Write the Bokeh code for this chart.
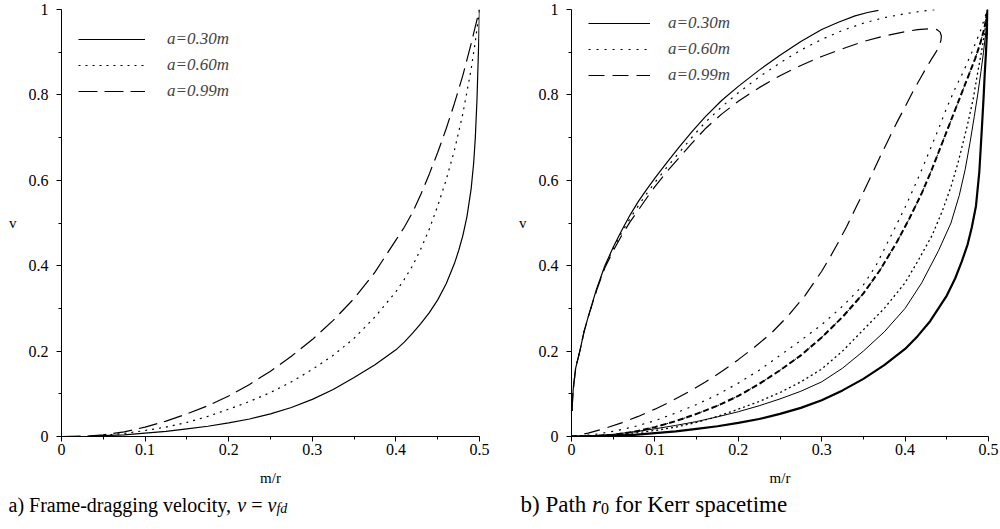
from bokeh.plotting import figure
from bokeh.layouts import row, column
from bokeh.models import FixedTicker, Legend, LegendItem, Label, Range1d
from bokeh.embed import file_html
from bokeh.resources import INLINE

# ---------------- data ----------------
# Panel a) frame-dragging velocity v_fd vs m/r
a_x_030 = [0, 0.03, 0.05, 0.075, 0.1, 0.125, 0.15, 0.175, 0.2, 0.225, 0.25, 0.275, 0.3, 0.325, 0.35, 0.375, 0.4, 0.41,
           0.42, 0.43, 0.44, 0.45, 0.46, 0.47, 0.475, 0.48, 0.485, 0.49, 0.493, 0.495, 0.497, 0.499, 0.5]
a_v_030 = [0, 0, 0.002, 0.004, 0.008, 0.012, 0.018, 0.024, 0.032, 0.041, 0.053, 0.068, 0.087, 0.11, 0.138, 0.168, 0.203, 0.221,
           0.242, 0.265, 0.29, 0.32, 0.357, 0.405, 0.435, 0.47, 0.515, 0.58, 0.64, 0.7, 0.79, 0.92, 1.0]
a_x_060 = [0, 0.03, 0.05, 0.075, 0.1, 0.125, 0.15, 0.175, 0.2, 0.225, 0.25, 0.275, 0.3, 0.325, 0.35, 0.375, 0.4, 0.41,
           0.42, 0.43, 0.44, 0.45, 0.46, 0.47, 0.48, 0.49, 0.495, 0.5]
a_v_060 = [0, 0, 0.003, 0.007, 0.014, 0.022, 0.033, 0.047, 0.064, 0.082, 0.103, 0.128, 0.157, 0.19, 0.23, 0.28, 0.339, 0.368,
           0.4, 0.44, 0.486, 0.54, 0.6, 0.67, 0.755, 0.86, 0.925, 1.0]
a_x_099 = [0, 0.03, 0.05, 0.075, 0.1, 0.125, 0.15, 0.175, 0.2, 0.225, 0.25, 0.275, 0.3, 0.325, 0.35, 0.375, 0.4, 0.41,
           0.42, 0.43, 0.44, 0.45, 0.46, 0.47, 0.48, 0.49, 0.5]
a_v_099 = [0, 0.001, 0.004, 0.011, 0.022, 0.036, 0.053, 0.072, 0.095, 0.122, 0.153, 0.188, 0.227, 0.272, 0.323, 0.385, 0.46, 0.49,
           0.525, 0.568, 0.615, 0.665, 0.72, 0.78, 0.845, 0.92, 1.0]

# Panel b) path r0 for Kerr spacetime
# upper branches
b_up_x_030 = [0.0005, 0.002, 0.005, 0.01, 0.015, 0.02, 0.03, 0.04, 0.05, 0.06, 0.07, 0.08, 0.09, 0.1, 0.115, 0.13, 0.145,
              0.16, 0.18, 0.2, 0.225, 0.25, 0.275, 0.3, 0.32, 0.34, 0.355, 0.368]
b_up_v_030 = [0.06, 0.11, 0.16, 0.2, 0.245, 0.28, 0.345, 0.4, 0.443, 0.482, 0.518, 0.55, 0.578, 0.605, 0.643, 0.68, 0.715,
              0.748, 0.787, 0.82, 0.858, 0.893, 0.925, 0.953, 0.97, 0.985, 0.993, 0.998]
b_up_x_060 = [0.0005, 0.002, 0.005, 0.01, 0.015, 0.02, 0.03, 0.04, 0.05, 0.06, 0.07, 0.08, 0.09, 0.1, 0.115, 0.13, 0.145,
              0.16, 0.18, 0.2, 0.225, 0.25, 0.275, 0.3, 0.325, 0.35, 0.375, 0.4, 0.42, 0.438]
b_up_v_060 = [0.06, 0.11, 0.16, 0.2, 0.245, 0.28, 0.343, 0.398, 0.44, 0.477, 0.51, 0.54, 0.568, 0.595, 0.632, 0.667, 0.702,
              0.735, 0.772, 0.805, 0.842, 0.875, 0.905, 0.93, 0.951, 0.968, 0.981, 0.99, 0.996, 1.0]
# a=0.99: upper branch, hook, lower branch (one path)
b_loop_x_099 = [0.0005, 0.002, 0.005, 0.01, 0.015, 0.02, 0.03, 0.04, 0.05, 0.06, 0.07, 0.08, 0.09, 0.1, 0.115, 0.13, 0.145,
                0.16, 0.18, 0.2, 0.225, 0.25, 0.275, 0.3, 0.325, 0.35, 0.375, 0.4, 0.415, 0.43, 0.438, 0.442, 0.4435, 0.443,
                0.441, 0.437, 0.432, 0.425, 0.418, 0.41, 0.4, 0.39, 0.38, 0.37, 0.36, 0.35, 0.34, 0.33, 0.32, 0.31, 0.3,
                0.28, 0.26, 0.24, 0.22, 0.2, 0.18, 0.16, 0.14, 0.12, 0.1, 0.08, 0.06, 0.04, 0.02, 0.0]
b_loop_v_099 = [0.06, 0.11, 0.16, 0.2, 0.245, 0.28, 0.342, 0.395, 0.435, 0.47, 0.502, 0.53, 0.558, 0.585, 0.622, 0.655, 0.688,
                0.72, 0.755, 0.785, 0.817, 0.845, 0.869, 0.89, 0.908, 0.925, 0.938, 0.948, 0.953, 0.955, 0.953, 0.947, 0.938, 0.928,
                0.915, 0.9, 0.885, 0.862, 0.838, 0.81, 0.772, 0.735, 0.695, 0.655, 0.613, 0.572, 0.532, 0.492, 0.455, 0.42, 0.387,
                0.33, 0.283, 0.243, 0.21, 0.18, 0.152, 0.127, 0.104, 0.083, 0.064, 0.047, 0.032, 0.019, 0.008, 0.0]
# lower branches
b_mid_x_030 = [0, 0.025, 0.05, 0.075, 0.1, 0.125, 0.15, 0.175, 0.2, 0.225, 0.25, 0.275, 0.3, 0.325, 0.35, 0.375, 0.4, 0.42,
               0.44, 0.455, 0.465, 0.472, 0.478, 0.483, 0.487, 0.491, 0.494, 0.497, 0.4988]
b_mid_v_030 = [0, 0.002, 0.005, 0.011, 0.018, 0.026, 0.035, 0.046, 0.058, 0.072, 0.088, 0.106, 0.128, 0.16, 0.2, 0.245, 0.3, 0.36,
               0.435, 0.5, 0.565, 0.625, 0.69, 0.75, 0.8, 0.855, 0.9, 0.95, 1.0]
b_low_x_030 = [0, 0.025, 0.05, 0.075, 0.1, 0.125, 0.15, 0.175, 0.2, 0.225, 0.25, 0.275, 0.3, 0.325, 0.35, 0.375, 0.4, 0.415,
               0.43, 0.44, 0.45, 0.46, 0.468, 0.475, 0.48, 0.485, 0.489, 0.492, 0.494, 0.4955, 0.497, 0.498, 0.4988]
b_low_v_030 = [0, 0, 0.002, 0.004, 0.008, 0.012, 0.018, 0.024, 0.032, 0.041, 0.053, 0.067, 0.085, 0.108, 0.135, 0.167, 0.205, 0.235,
               0.27, 0.3, 0.33, 0.37, 0.41, 0.45, 0.49, 0.54, 0.62, 0.72, 0.79, 0.85, 0.9, 0.94, 1.0]
b_hi_x_060 = [0, 0.025, 0.05, 0.075, 0.1, 0.125, 0.15, 0.175, 0.2, 0.225, 0.25, 0.275, 0.3, 0.325, 0.35, 0.365, 0.38, 0.39,
              0.4, 0.41, 0.42, 0.43, 0.44, 0.45, 0.46, 0.47, 0.48, 0.49, 0.4988]
b_hi_v_060 = [0, 0.004, 0.012, 0.023, 0.037, 0.055, 0.075, 0.098, 0.125, 0.155, 0.19, 0.225, 0.262, 0.305, 0.355, 0.4, 0.458, 0.497,
              0.537, 0.58, 0.625, 0.672, 0.72, 0.77, 0.815, 0.855, 0.9, 0.948, 1.0]
b_lo_x_060 = [0, 0.025, 0.05, 0.075, 0.1, 0.125, 0.15, 0.175, 0.2, 0.225, 0.25, 0.275, 0.3, 0.325, 0.35, 0.375, 0.4, 0.415,
              0.4324, 0.445, 0.455, 0.464, 0.4748, 0.4816, 0.4864, 0.491, 0.495, 0.4988]
b_lo_v_060 = [0, 0.001, 0.003, 0.008, 0.014, 0.022, 0.033, 0.047, 0.064, 0.082, 0.103, 0.128, 0.158, 0.2, 0.25, 0.3, 0.36, 0.41,
              0.471, 0.53, 0.585, 0.645, 0.73, 0.79, 0.845, 0.895, 0.94, 1.0]
b_mid_x_099 = [0, 0.025, 0.05, 0.075, 0.1, 0.125, 0.15, 0.175, 0.2, 0.225, 0.25, 0.275, 0.3, 0.325, 0.35, 0.37, 0.39, 0.405,
               0.42, 0.432, 0.444, 0.455, 0.463, 0.47, 0.477, 0.484, 0.49, 0.495, 0.4988]
b_mid_v_099 = [0, 0.001, 0.004, 0.011, 0.022, 0.036, 0.053, 0.072, 0.095, 0.123, 0.155, 0.19, 0.232, 0.28, 0.335, 0.39, 0.455, 0.51,
               0.57, 0.625, 0.685, 0.74, 0.78, 0.815, 0.85, 0.885, 0.92, 0.955, 1.0]

x_ticks = [0, 0.1, 0.2, 0.3, 0.4, 0.5]
x_tick_labels = ["0", "0.1", "0.2", "0.3", "0.4", "0.5"]
x_minor = [0.05, 0.15, 0.25, 0.35, 0.45]
y_ticks = [0, 0.2, 0.4, 0.6, 0.8, 1]
y_tick_labels = ["0", "0.2", "0.4", "0.6", "0.8", "1"]
y_minor = [0.1, 0.3, 0.5, 0.7, 0.9]
legend_labels = ["a=0.30m", "a=0.60m", "a=0.99m"]

FONT = "Liberation Serif"
PANEL_H = 490
CAP_H = 529 - PANEL_H


def make_fig(b_left, b_right):
    p = figure(width=500, height=PANEL_H, x_range=Range1d(0, 0.5), y_range=Range1d(0, 1),
               output_backend="svg", toolbar_location=None,
               min_border_left=b_left, min_border_right=b_right, min_border_top=9,
               min_border_bottom=PANEL_H - 436)
    p.outline_line_color = None
    p.grid.visible = False
    p.xaxis.ticker = FixedTicker(ticks=x_ticks, minor_ticks=x_minor)
    p.yaxis.ticker = FixedTicker(ticks=y_ticks, minor_ticks=y_minor)
    p.xaxis.major_label_overrides = dict(zip(x_ticks, x_tick_labels))
    p.yaxis.major_label_overrides = dict(zip(y_ticks, y_tick_labels))
    for ax in (p.xaxis[0], p.yaxis[0]):
        ax.axis_line_color = "black"
        ax.major_tick_line_color = "black"
        ax.minor_tick_line_color = "black"
        ax.major_tick_in = 0
        ax.minor_tick_in = 0
        ax.major_tick_out = 5
        ax.minor_tick_out = 3
        ax.major_label_text_font = FONT
        ax.major_label_text_font_size = "16px"
        ax.major_label_text_color = "black"
        ax.axis_label_text_font = FONT
        ax.axis_label_text_font_style = "normal"
        ax.axis_label_text_font_size = "15px"
        ax.axis_label_text_color = "black"
    p.yaxis.major_label_standoff = 8
    p.xaxis.major_label_standoff = 2
    p.xaxis.axis_label = "m/r"
    p.xaxis.axis_label_standoff = 12
    p.yaxis.axis_label = "v"
    p.yaxis.axis_label_orientation = "horizontal"
    p.yaxis.axis_label_standoff = 9
    return p


def add_legend(p, renderers, vx, vy, glyph_w, standoff):
    items = [LegendItem(label=lab, renderers=[r]) for lab, r in zip(legend_labels, renderers)]
    lg = Legend(items=items, location=(vx, vy), glyph_width=glyph_w, glyph_height=20, label_height=20,
                spacing=6, padding=0, margin=0, label_standoff=standoff,
                border_line_color=None, background_fill_alpha=0,
                label_text_font=FONT, label_text_font_style="italic", label_text_font_size="17px")
    p.add_layout(lg, "center")


def caption_fig(parts):
    c = figure(width=500, height=CAP_H, x_range=Range1d(0, 1), y_range=Range1d(0, 1),
               output_backend="svg", toolbar_location=None, x_axis_location=None, y_axis_location=None,
               min_border_left=0, min_border_right=0, min_border_top=0, min_border_bottom=0)
    c.outline_line_color = None
    c.grid.visible = False
    for (x, y, txt, style, size) in parts:
        c.add_layout(Label(x=x, y=y, x_units="screen", y_units="screen", text=txt,
                           text_font=FONT, text_font_style=style, text_font_size=size,
                           text_color="black", text_baseline="alphabetic", text_align="left"))
    return c


LW = 1.2

# ---------------- panel a ----------------
pa = make_fig(61, 21)
ra1 = pa.line(a_x_030, a_v_030, line_color="black", line_width=LW)
ra2 = pa.line(a_x_060, a_v_060, line_color="black", line_width=LW, line_dash="2 5")
ra3 = pa.line(a_x_099, a_v_099, line_color="black", line_width=LW, line_dash="19 7")
add_legend(pa, [ra1, ra2, ra3], 17, 335, 67, 22)

# ---------------- panel b ----------------
pb = make_fig(71, 12)
rb1 = pb.line(b_up_x_030, b_up_v_030, line_color="black", line_width=LW)
rb2 = pb.line(b_up_x_060, b_up_v_060, line_color="black", line_width=LW, line_dash="2 6")
rb3 = pb.line(b_loop_x_099, b_loop_v_099, line_color="black", line_width=LW, line_dash="16 8")
pb.line(b_mid_x_030, b_mid_v_030, line_color="black", line_width=1.0)
pb.line(b_low_x_030, b_low_v_030, line_color="black", line_width=2.2)
pb.line(b_hi_x_060, b_hi_v_060, line_color="black", line_width=LW, line_dash="2 6")
pb.line(b_lo_x_060, b_lo_v_060, line_color="black", line_width=1.3, line_dash="2 3")
pb.line(b_mid_x_099, b_mid_v_099, line_color="black", line_width=2.0, line_dash="6 3")
pb.line(b_mid_x_099, b_mid_v_099, line_color="black", line_width=1.0, line_dash="2 4")
add_legend(pb, [rb1, rb2, rb3], 17, 351, 62, 18)

# ---------------- captions ----------------
yb = CAP_H - (504 - PANEL_H)
F = 20.0
x0 = 8
w1 = 11.442 * F
ca = caption_fig([
    (x0, yb, "a) Frame-dragging velocity,", "normal", "%dpx" % F),
    (x0 + w1, yb, "v", "italic", "%dpx" % F),
    (x0 + w1 + 0.444 * F + 0.25 * F, yb, "=", "normal", "%dpx" % F),
    (x0 + w1 + 0.444 * F + 1.064 * F, yb, "v", "italic", "%dpx" % F),
    (x0 + w1 + 0.888 * F + 1.064 * F, yb - 4, "fd", "italic", "%dpx" % (0.7 * F)),
])
G = 23.0
xb = 20
wb1 = 3.111 * G
cb = caption_fig([
    (xb, yb, "b) Path", "normal", "%dpx" % G),
    (xb + wb1, yb, "r", "italic", "%dpx" % G),
    (xb + wb1 + 0.389 * G, yb - 4, "0", "normal", "%dpx" % (0.7 * G)),
    (xb + wb1 + 0.389 * G + 0.35 * G + 0.25 * G, yb, "for Kerr spacetime", "normal", "%dpx" % G),
])

layout = column(row(pa, pb), row(ca, cb))
open("out.html", "w").write(file_html(layout, INLINE))
